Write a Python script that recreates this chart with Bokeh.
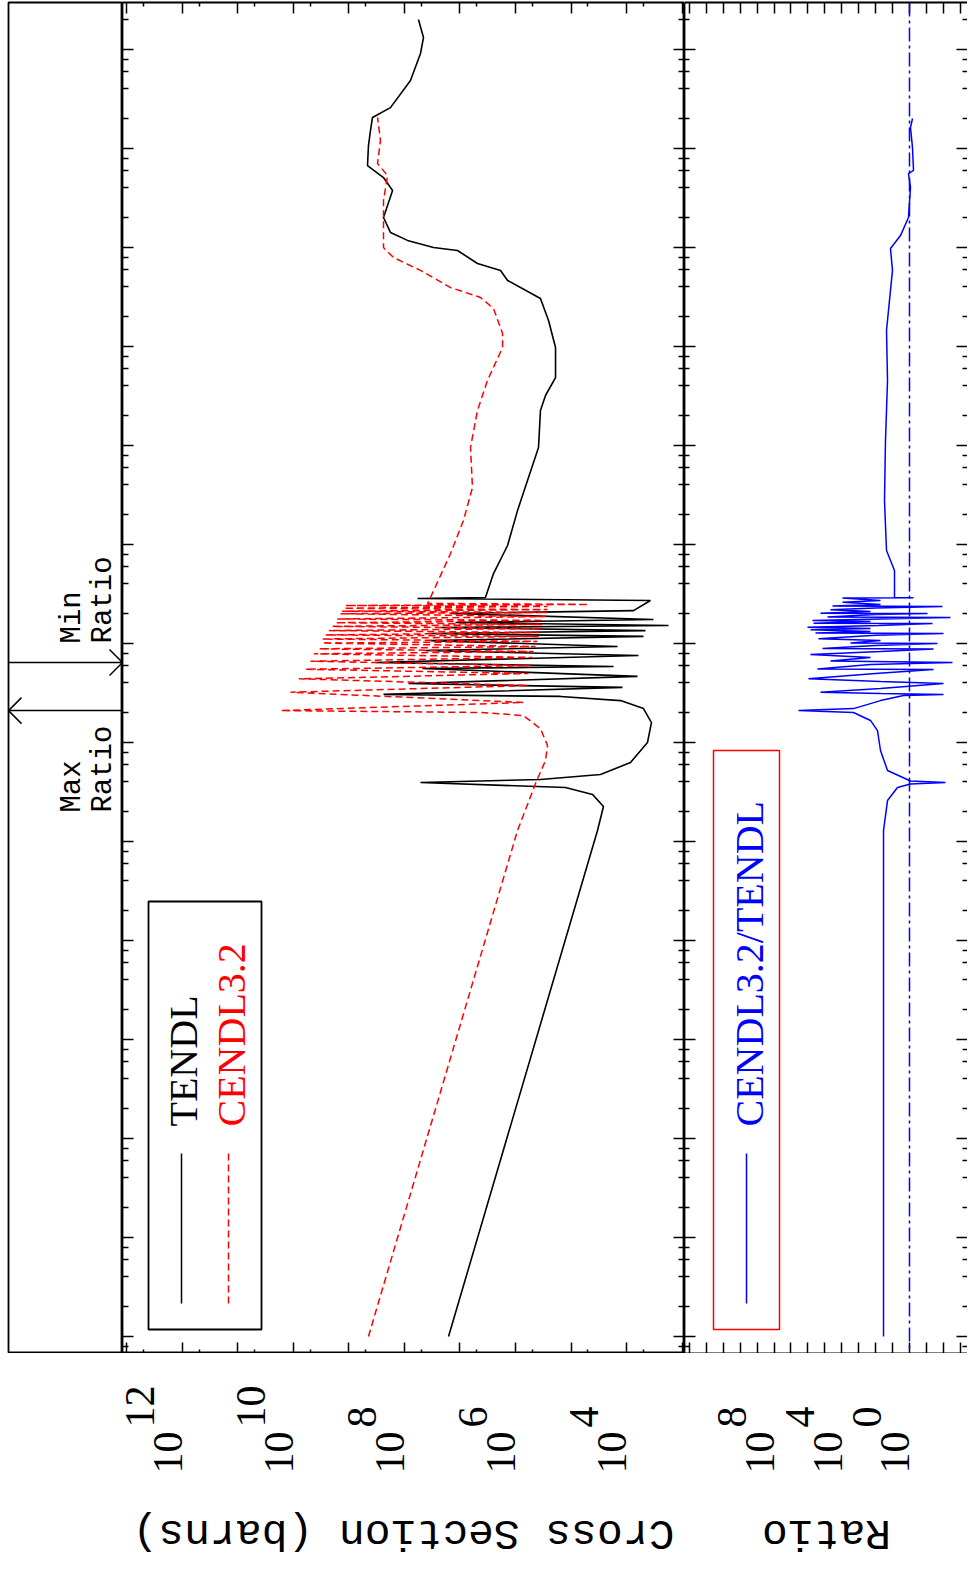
import math
from bokeh.plotting import figure
from bokeh.layouts import row, column
from bokeh.models import Range1d, LogAxis, FixedTicker, Span, BoxAnnotation, CustomJSTickFormatter
from bokeh.core.properties import value
from bokeh.embed import file_html
from bokeh.resources import INLINE

# ---------------- data (energy in eV, cross section in barns) ----------------
TENDL_E = [1.0e-5, 1.29, 2.26, 2.99, 3.51, 3.94, 4.23, 4.75, 6.28, 10.0, 15.9, 22.0, 26.5, 29.2, 30.6,
           36.0, 39.4, 46.5, 55.9, 58.6, 64.3, 75.7, 84.9, 93.3, 107, 118, 126, 135, 145, 152, 163, 175,
           201, 215, 272, 285, 292,
           509, 977, 2.20e3, 4.43e3, 9.55e3, 2.26e4, 3.20e4, 4.86e4, 9.77e4, 1.83e5, 3.05e5, 4.65e5,
           5.87e5, 6.89e5, 9.33e5, 1.0e6, 1.18e6, 1.42e6, 2.01e6, 3.77e6, 5.09e6, 6.73e6, 1.07e7,
           1.52e7, 2.06e7, 2.59e7, 4.86e7, 9.12e7, 1.32e8, 2.01e8]
TENDL_XS = [1.61e7, 3.33e4, 2.60e4, 4.10e4, 1.26e5, 5.15e7, 3.55e5, 2.94e4, 8.47e3, 4.19e3, 3.55e3,
            4.94e3, 1.28e4, 1.55e5, 2.39e8,
            1.18e4, 8.47e7, 6.34e3, 4.74e7, 1.71e4, 3.33e8, 6.08e3, 4.19e7, 1.45e4, 3.40e7, 4.94e3,
            3.70e7, 4.55e3, 2.24e7, 1.75e3, 1.21e7, 3.27e3, 1.48e7, 7.48e3, 3.70e3, 5.83e7, 3.48e6,
            2.49e6, 1.39e6, 9.20e5, 6.08e5, 3.85e5, 3.55e5, 2.88e5, 1.90e5, 1.90e5, 2.54e5, 3.55e5,
            1.39e6, 1.86e6, 4.84e6, 1.11e7, 3.00e7, 8.83e7, 1.79e8, 2.39e8, 1.64e8, 2.39e8, 4.64e8,
            4.46e8, 4.10e8, 3.77e8, 1.79e8, 7.80e7, 5.15e7, 4.55e7, 5.60e7]

CENDL_E = [1.0e-5, 1.29, 3.85, 6.58, 9.33, 13.8, 18.7, 20.1, 21.0, 25.4, 32.2, 37.6, 44.0, 49.8, 54.9,
           59.9, 66.2, 72.3, 78.7, 83.0, 88.3, 93.3, 101, 105, 111, 118, 122, 129, 135, 142, 149, 156,
           162, 171, 177, 187, 200, 206, 212, 220, 227, 237, 242, 248, 254, 292, 811, 1.75e3, 3.77e3,
           9.55e3, 2.26e4, 4.54e4, 9.77e4, 1.35e5, 2.42e5, 3.13e5, 3.94e5, 5.87e5, 7.93e5, 1.0e6,
           2.99e6, 5.33e6, 7.05e6, 1.21e7, 2.06e7]
CENDL_XS = [4.46e8, 9.20e5, 4.36e5, 2.88e5, 2.65e5, 3.55e5, 7.18e5, 4.27e6, 1.71e10, 7.18e5, 1.13e10,
            6.08e5, 8.03e9, 5.83e5, 6.08e9, 5.37e5, 4.94e9, 4.94e5, 4.31e9, 4.74e5, 3.50e9, 4.36e5,
            3.04e9, 4.02e5, 3.04e9, 3.85e5, 2.65e9, 3.70e5, 2.31e9, 3.40e5, 2.01e9, 3.27e5, 1.75e9,
            3.13e5, 1.63e9, 2.88e5, 1.42e9, 2.65e5, 1.33e9, 2.65e5, 1.24e9, 2.65e5, 1.16e9, 4.84e4,
            3.85e7, 3.40e7, 1.48e7, 8.65e6, 5.96e6, 6.47e6, 4.84e6, 3.20e6, 1.71e6, 1.71e6, 2.49e6,
            4.27e6, 1.48e7, 5.15e7, 1.58e8, 2.39e8, 2.39e8, 2.02e8, 3.06e8, 2.71e8, 3.06e8]

RATIO_E = [1.0e-5, 1.29, 2.59, 3.51, 3.81, 3.94, 4.08, 5.21, 8.30, 13.2, 16.7, 20.1, 21.0, 22.0, 26.5,
           29.9, 30.6, 31.3, 32.2, 35.1, 39.4, 41.3, 44.0, 49.8, 54.6, 55.2, 61.4, 64.3, 66.5, 72.3,
           77.4, 83.0, 87.9, 88.9, 95.5, 100, 101, 107, 112, 121, 126, 128, 132, 138, 142, 146, 152,
           159, 160, 167, 171, 177, 183, 185, 196, 201, 202, 210, 219, 228, 237, 239, 248, 261, 272,
           288, 290, 292, 546, 869, 2.78e3, 1.12e4, 4.54e4, 1.45e5, 2.92e5, 5.87e5, 9.77e5, 1.32e6,
           2.01e6, 4.04e6, 5.58e6, 6.00e6, 1.02e7, 1.63e7, 2.01e7]
RATIO_VAL = [34.3, 34.3, 19.9, 5.11, 0.873, 7.48e-3, 0.873, 19.9, 51.6, 77.6, 201, 2.03e3, 3.60e6,
             2.03e3, 51.6, 2.26, 9.8e-3, 51.6, 1.81e5, 51.6, 9.82e-3, 51.6, 9.24e5, 102, 0.0382,
             2.72e5, 201, 0.00288, 4.64e4, 201, 7.04e5, 51.6, 0.0382, 1.38e5, 102, 0.0222, 3.05e3,
             51.6, 2.37e5, 102, 9.82e-3, 3.57e5, 201, 7.04e5, 201, 1.06e6, 67.8, 0.0438, 4.68e5, 201,
             5.36e5, 51.6, 0.00379, 6.97e4, 102, 0.0865, 1.81e5, 201, 4.64e4, 102, 0.0112, 3.53e4,
             51.6, 9.06e3, 51.6, 9.06e3, 0.580, 7.69, 7.69, 22.8, 30.0, 26.2, 19.9, 22.8, 15.2, 10.1,
             13.3, 3.40, 1.15, 0.873, 1.15, 0.580, 0.665, 0.873, 0.665]

# tick exponents / labels
E_MAJOR_EXP = list(range(-5, 9))
E_MINOR_MULT = [2, 4, 6, 8]
XS_MAJOR_EXP = list(range(3, 14))
XS_MINOR_MULT = [5]
RATIO_MAJOR_EXP = list(range(-3, 14))
XS_LABEL_EXP = [12, 10, 8, 6, 4]
RATIO_LABEL_EXP = [8, 4, 0]

# min / max of ratio (for the arrow panel)
MAX_RATIO_E = RATIO_E[RATIO_VAL.index(max(RATIO_VAL))]
MIN_RATIO_E = RATIO_E[RATIO_VAL.index(min(RATIO_VAL))]

# ---------------- layout ----------------
LEFT_PAD, TOP_PAD = 8, 2
ARROW_W, MAIN_W, RATIO_W = 114, 562, 283
PANEL_H, LABEL_H = 1351, 210
MAIN_X0 = LEFT_PAD + ARROW_W
RATIO_X0 = MAIN_X0 + MAIN_W
E_LOG_BOT, E_LOG_TOP = -5.172, 8.475
MAIN_LOG_L, MAIN_LOG_R = 13.081, 2.955
RATIO_LOG_L, RATIO_LOG_R = 13.29, -3.426


def e_at(py):
    return 10 ** (E_LOG_TOP - (py - TOP_PAD) / PANEL_H * (E_LOG_TOP - E_LOG_BOT))


def py_of(e):
    return TOP_PAD + (E_LOG_TOP - math.log10(e)) / (E_LOG_TOP - E_LOG_BOT) * PANEL_H


def main_x(px):
    return 10 ** (MAIN_LOG_L + (px - MAIN_X0) / MAIN_W * (MAIN_LOG_R - MAIN_LOG_L))


def ratio_x(px):
    return 10 ** (RATIO_LOG_L + (px - RATIO_X0) / RATIO_W * (RATIO_LOG_R - RATIO_LOG_L))


def arrow_x(px):
    return (px - LEFT_PAD) / ARROW_W


E_MAJOR = [10.0 ** k for k in E_MAJOR_EXP]
E_MINOR = [m * 10.0 ** k for k in range(-6, 9) for m in E_MINOR_MULT]
XS_MAJOR = [10.0 ** k for k in XS_MAJOR_EXP]
XS_MINOR = [m * 10.0 ** k for k in range(2, 13) for m in XS_MINOR_MULT]
RATIO_MAJOR = [10.0 ** k for k in RATIO_MAJOR_EXP]

e_range = Range1d(10 ** E_LOG_BOT, 10 ** E_LOG_TOP)
common = dict(height=PANEL_H + TOP_PAD, y_range=e_range, y_axis_type="log", output_backend="svg",
              toolbar_location=None, min_border=0, min_border_right=0,
              min_border_top=TOP_PAD, min_border_bottom=0, background_fill_color="white",
              border_fill_color="white")

blank = CustomJSTickFormatter(code="return ''")


def dress(p, x_major, x_minor, x_len, x_minor_len, y_len, y_minor_len, lines):
    p.add_layout(LogAxis(), "above")
    p.add_layout(LogAxis(), "right")
    p.grid.visible = False
    for ax in p.xaxis:
        ax.ticker = FixedTicker(ticks=x_major, minor_ticks=x_minor)
        ax.major_tick_in = x_len
        ax.minor_tick_in = x_minor_len
    for ax in p.yaxis:
        ax.ticker = FixedTicker(ticks=E_MAJOR, minor_ticks=E_MINOR)
        ax.major_tick_in = y_len
        ax.minor_tick_in = y_minor_len
    for ax in list(p.xaxis) + list(p.yaxis):
        ax.formatter = blank
        ax.major_tick_out = 0
        ax.minor_tick_out = 0
        ax.major_tick_line_color = "black"
        ax.minor_tick_line_color = "black"
        ax.major_tick_line_width = 1.5
        ax.minor_tick_line_width = 1.5
        ax.major_label_text_font_size = "1px"
        ax.major_label_text_alpha = 0
        ax.major_label_standoff = 0
        ax.axis_line_color = "black" if lines else None
        ax.axis_line_width = 1.8


mono = value("Liberation Mono")
serif = value("Liberation Serif")
# rotated text: the glyphs' baseline sits this many px left of the anchor per px of font size
BASE_SHIFT = 0.36

# ---------------- arrow panel ----------------
arr = figure(width=LEFT_PAD + ARROW_W, min_border_left=LEFT_PAD, x_range=Range1d(0, 1),
             x_axis_location=None, y_axis_location=None, **common)
arr.grid.visible = False
arr.outline_line_color = "black"
arr.outline_line_width = 1.8

for e_val, tip_px, sign in ((MIN_RATIO_E, LEFT_PAD + ARROW_W, -1), (MAX_RATIO_E, LEFT_PAD, 1)):
    py = py_of(e_val)
    arr.segment(x0=[0], y0=[e_val], x1=[1], y1=[e_val], line_color="black", line_width=1.5)
    arr.segment(x0=[arrow_x(tip_px)] * 2, y0=[e_val] * 2,
                x1=[arrow_x(tip_px + sign * 13)] * 2, y1=[e_at(py - 13), e_at(py + 13)],
                line_color="black", line_width=1.5)

ARR_FONT = 29
for e_val, off, words in ((MIN_RATIO_E, -19, ("Min", "Ratio")), (MAX_RATIO_E, 102, ("Max", "Ratio"))):
    arr.text(x=[arrow_x(82 - BASE_SHIFT * ARR_FONT), arrow_x(113 - BASE_SHIFT * ARR_FONT)],
             y=[e_val, e_val], text=list(words), angle=math.pi / 2,
             y_offset=off, text_align="left", text_baseline="alphabetic", text_font=mono,
             text_font_size=f"{ARR_FONT}px", text_color="black")

# ---------------- main panel ----------------
main = figure(width=MAIN_W, min_border_left=0, x_range=Range1d(main_x(MAIN_X0), main_x(RATIO_X0)),
              x_axis_type="log", **common)
dress(main, XS_MAJOR, XS_MINOR, 11, 4, 11, 6, lines=False)
main.outline_line_color = "black"
main.outline_line_width = 1.8

main.line(x=TENDL_XS, y=TENDL_E, line_color="black", line_width=1.6)
main.line(x=CENDL_XS, y=CENDL_E, line_color="red", line_width=1.5, line_dash="7 4")

LEG_FONT = 40
main.add_layout(BoxAnnotation(left=main_x(148), right=main_x(261), bottom=e_at(1329), top=e_at(901),
                              fill_color=None, line_color="black", line_alpha=1, line_width=1.8))
main.line(x=[main_x(181)] * 2, y=[e_at(1303), e_at(1153)], line_color="black", line_width=1.5)
main.line(x=[main_x(228)] * 2, y=[e_at(1303), e_at(1153)], line_color="red", line_width=1.5, line_dash="7 4")
main.text(x=[main_x(197 - BASE_SHIFT * LEG_FONT)], y=[e_at(1126)], text=["TENDL"], angle=math.pi / 2,
          text_align="left", text_baseline="alphabetic", text_font=serif, text_font_size=f"{LEG_FONT}px",
          text_color="black")
main.text(x=[main_x(245 - BASE_SHIFT * LEG_FONT)], y=[e_at(1126)], text=["CENDL3.2"], angle=math.pi / 2,
          text_align="left", text_baseline="alphabetic", text_font=serif, text_font_size=f"{LEG_FONT}px",
          text_color="red")

# ---------------- ratio panel ----------------
ratio = figure(width=RATIO_W, min_border_left=0, x_range=Range1d(ratio_x(RATIO_X0), ratio_x(RATIO_X0 + RATIO_W)),
               x_axis_type="log", **common)
dress(ratio, RATIO_MAJOR, [], 11, 0, 11, 5, lines=True)
ratio.outline_line_color = None
ratio.right[0].axis_line_color = None

ratio.add_layout(Span(location=1, dimension="height", line_color="blue", line_width=1.5, line_dash="14 4 3 4"))
ratio.line(x=RATIO_VAL, y=RATIO_E, line_color="blue", line_width=1.5)

ratio.add_layout(BoxAnnotation(left=ratio_x(713), right=ratio_x(779), bottom=e_at(1329), top=e_at(750),
                               fill_color=None, line_color="red", line_alpha=1, line_width=1.5))
ratio.line(x=[ratio_x(746)] * 2, y=[e_at(1303), e_at(1153)], line_color="blue", line_width=1.5)
ratio.text(x=[ratio_x(763 - BASE_SHIFT * LEG_FONT)], y=[e_at(1126)], text=["CENDL3.2/TENDL"],
           angle=math.pi / 2, text_align="left", text_baseline="alphabetic", text_font=serif,
           text_font_size=f"{LEG_FONT}px", text_color="blue")

# ---------------- label strips (same log mapping, extended to the page's left edge) ----------------
lab_common = dict(height=LABEL_H, y_range=Range1d(LABEL_H, 0), x_axis_type="log", x_axis_location=None,
                  y_axis_location=None, output_backend="svg", toolbar_location=None, min_border=0,
                  min_border_left=0, min_border_right=0, min_border_top=0, min_border_bottom=0,
                  outline_line_color=None)

mlab = figure(width=RATIO_X0, x_range=Range1d(main_x(0), main_x(RATIO_X0)), **lab_common)
rlab = figure(width=RATIO_W, x_range=Range1d(ratio_x(RATIO_X0), ratio_x(RATIO_X0 + RATIO_W)), **lab_common)
LAB_TOP = TOP_PAD + PANEL_H
TICK_FONT = 42
for fig, exps, title, xc in ((mlab, XS_LABEL_EXP, "Cross Section (barns)", main_x(403)),
                             (rlab, RATIO_LABEL_EXP, "Ratio", ratio_x(826))):
    fig.grid.visible = False
    xs = [10.0 ** k for k in exps]
    fig.text(x=xs, y=[1473 - LAB_TOP] * len(xs), text=["10"] * len(xs), angle=math.pi / 2,
             x_offset=1 - BASE_SHIFT * TICK_FONT, text_align="left", text_baseline="alphabetic",
             text_font=serif, text_font_size=f"{TICK_FONT}px", text_color="black")
    fig.text(x=xs, y=[1427 - LAB_TOP] * len(xs), text=[str(k) for k in exps], angle=math.pi / 2,
             x_offset=-27 - BASE_SHIFT * TICK_FONT, text_align="left", text_baseline="alphabetic",
             text_font=serif, text_font_size=f"{TICK_FONT}px", text_color="black")
    fig.text(x=[xc], y=[1532 - LAB_TOP], text=[title], angle=math.pi, text_align="center",
             text_baseline="middle", text_font=mono, text_font_size="43px", text_color="black")

layout = column(row(arr, main, ratio), row(mlab, rlab))

open("out.html", "w").write(file_html(layout, INLINE))
